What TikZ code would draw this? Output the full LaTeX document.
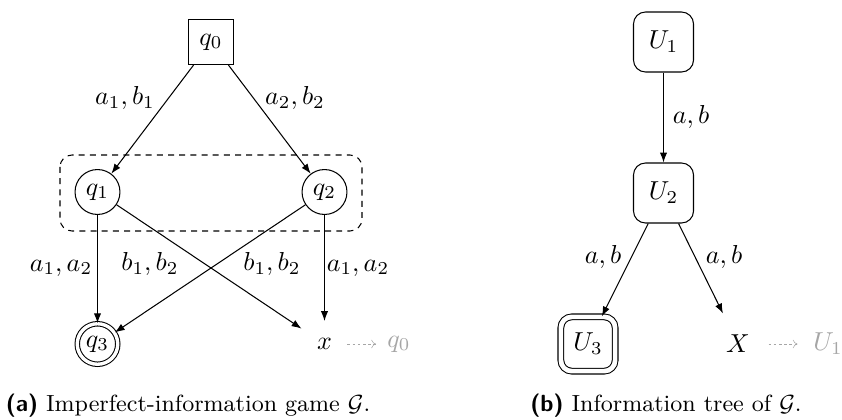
\documentclass[tikz,border=0pt]{standalone}
\usetikzlibrary{arrows.meta}
\begin{document}
\begin{tikzpicture}[x=0.385pt,y=-0.385pt,
  >={Latex[length=3.8pt,width=2.8pt]},
  edge/.style={->,thin},
  sqstate/.style={draw,thin,rectangle,minimum size=17.3pt,inner sep=0pt},
  rdstate/.style={draw,thin,circle,minimum size=17.3pt,inner sep=0pt},
  accstate/.style={draw,thin,circle,minimum size=15.6pt,inner sep=0pt,double,double distance=1.3pt},
  ubox/.style={draw,thin,rectangle,rounded corners=4.6pt,minimum size=23.1pt,inner sep=0pt},
  uacc/.style={draw,thin,rectangle,rounded corners=4.2pt,minimum size=20.9pt,inner sep=0pt,double,double distance=1.8pt},
  plain/.style={rectangle,inner sep=0pt,minimum size=17.3pt},
  uplain/.style={rectangle,inner sep=0pt,minimum size=23.1pt},
  ghost/.style={plain,text=black!35},
  ughost/.style={uplain,text=black!35},
  back/.style={->,black!35,very thin,dash pattern=on 1pt off 1pt,>={To[length=1.8pt,width=3.2pt]}},
  lbl/.style={inner sep=0pt},
  captxt/.style={inner sep=0pt,font=\fontsize{9}{11}\selectfont}
]
\useasboundingbox (0,0) rectangle (842,419);
% (a)
\node[sqstate] (q0) at (211,42) {$q_0$};
\node[rdstate] (q1) at (97.5,192) {$q_1$};
\node[rdstate] (q2) at (324.5,192) {$q_2$};
\node[accstate] (q3) at (97.5,344) {$q_3$};
\node[plain] (x) at (324.5,344) {$x$};
\node[ghost] (g0) at (399,344) {$q_0$};
\draw[thin,dash pattern=on 2.3pt off 2pt,rounded corners=4.6pt] (60,155) rectangle (362,231);
\draw[edge] (q0) -- (q1);
\draw[edge] (q0) -- (q2);
\draw[edge] (q1) -- (q3);
\draw[edge] (q1) -- (x);
\draw[edge] (q2) -- (q3);
\draw[edge] (q2) -- (x);
\draw[back] (x) -- (g0);
\node[lbl] (l1) at (125,98) {$a_1,b_1$};
\node[lbl] (l2) at (295,98) {$a_2,b_2$};
\node[lbl] (l3) at (61,268) {$a_1,a_2$};
\node[lbl] (l4) at (150,264) {$b_1,b_2$};
\node[lbl] (l5) at (272,264) {$b_1,b_2$};
\node[lbl] (l6) at (358,268) {$a_1,a_2$};
\node[captxt] (ca) at (188,406) {{\sffamily\bfseries (a)} Imperfect-information game $\mathcal{G}$.};
% (b)
\node[ubox] (u1) at (663.5,42) {$U_1$};
\node[ubox] (u2) at (663.5,193) {$U_2$};
\node[uacc] (u3) at (588,344) {$U_3$};
\node[uplain] (X) at (738,344) {$X$};
\node[ughost] (g1) at (828,344) {$U_1$};
\draw[edge] (u1) -- (u2);
\draw[edge] (u2) -- (u3);
\draw[edge] (u2) -- (X);
\draw[back] (X) -- (g1);
\node[lbl] (m1) at (691,117) {$a,b$};
\node[lbl] (m2) at (603,257) {$a,b$};
\node[lbl] (m3) at (724,257) {$a,b$};
\node[captxt] (cb) at (666,406) {{\sffamily\bfseries (b)} Information tree of $\mathcal{G}$.};
\end{tikzpicture}
\end{document}
